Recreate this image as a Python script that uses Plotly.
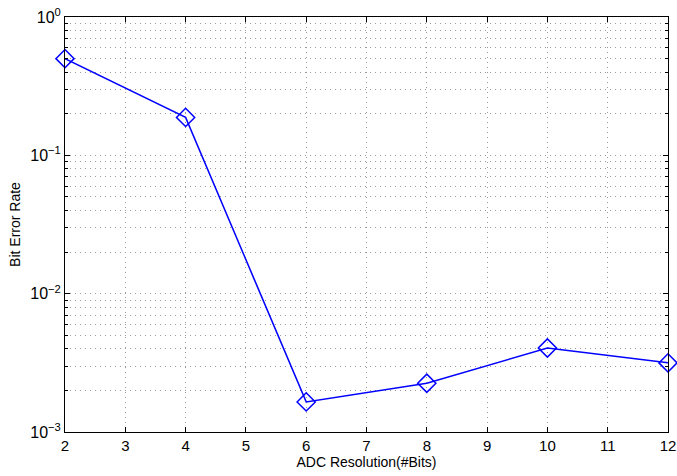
import plotly.graph_objects as go

bits = [2, 4, 6, 8, 10, 12]
ber = [0.5, 0.188, 1.65e-3, 2.25e-3, 4.05e-3, 3.16e-3]
x_ticks = [2, 3, 4, 5, 6, 7, 8, 9, 10, 11, 12]
y_tickvals = [1e-3, 1e-2, 1e-1, 1e0]
y_ticktext = ["10<sup>−3</sup>", "10<sup>−2</sup>", "10<sup>−1</sup>", "10<sup>0</sup>"]

fig = go.Figure()
fig.add_trace(go.Scatter(
    x=bits, y=ber, mode="lines+markers",
    line=dict(color="#0000ff", width=1.5),
    marker=dict(symbol="diamond-open", size=14, color="#0000ff", line=dict(width=1.5, color="#0000ff")),
    showlegend=False, cliponaxis=False,
))

grid = "#9a9a9a"
dash = "1px,4px"
font = dict(family="Liberation Sans, Arial, sans-serif", size=14, color="black")
fig.update_layout(
    width=677, height=476,
    margin=dict(l=65, r=9, t=17, b=44),
    paper_bgcolor="white", plot_bgcolor="white",
    font=font,
    xaxis=dict(
        range=[2, 12], tickvals=x_ticks, ticks="inside", ticklen=5, tickcolor="black",
        showline=True, linecolor="black", linewidth=1, mirror="ticks",
        showgrid=True, gridcolor=grid, griddash=dash, gridwidth=1,
        zeroline=False, automargin=False,
        title=dict(text="ADC Resolution(#Bits)", font=dict(size=14), standoff=4),
        tickfont=dict(size=15),
    ),
    yaxis=dict(
        type="log", range=[-3, 0], tickvals=y_tickvals, ticktext=y_ticktext,
        ticks="inside", ticklen=5, tickcolor="black",
        showline=True, linecolor="black", linewidth=1, mirror="ticks",
        showgrid=True, gridcolor=grid, griddash=dash, gridwidth=1,
        zeroline=False, automargin=False,
        minor=dict(dtick="D1", showgrid=True, gridcolor=grid, griddash=dash,
                   ticks="inside", ticklen=3, tickcolor="black"),
        title=dict(text="Bit Error Rate", font=dict(size=14), standoff=6),
        tickfont=dict(size=16),
    ),
)
fig.write_html("out.html")
